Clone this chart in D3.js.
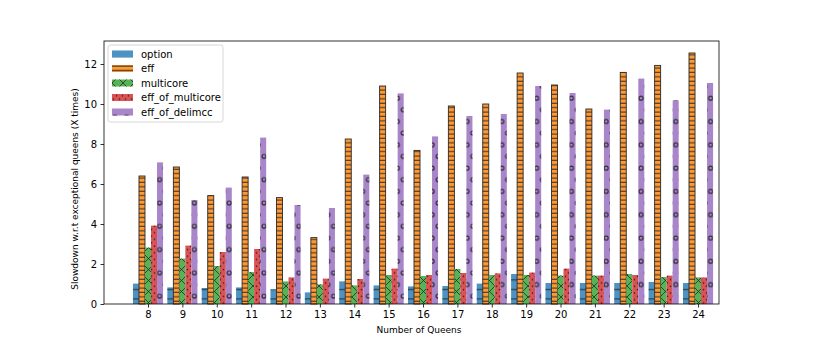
<!DOCTYPE html>
<html>
<head>
<meta charset="utf-8">
<script src="https://cdn.jsdelivr.net/npm/d3@7"></script>
<style>
  body { margin: 0; background: #fff; }
  svg { font-family: 'DejaVu Sans', sans-serif; }
</style>
</head>
<body>
<div id="chart"></div>
<script>
const queens = [8, 9, 10, 11, 12, 13, 14, 15, 16, 17, 18, 19, 20, 21, 22, 23, 24]
const option = [1.02, 0.83, 0.8, 0.83, 0.73, 0.58, 1.13, 0.93, 0.88, 0.9, 1.02, 1.5, 1.05, 1.05, 1.05, 1.1, 1.05]
const eff = [6.4, 6.85, 5.42, 6.35, 5.32, 3.32, 8.25, 10.9, 7.68, 9.9, 10.0, 11.55, 10.95, 9.75, 11.58, 11.93, 12.55]
const multicore = [2.82, 2.27, 1.9, 1.6, 1.13, 0.98, 0.93, 1.45, 1.4, 1.75, 1.45, 1.45, 1.42, 1.42, 1.5, 1.35, 1.33]
const effOfMulticore = [3.92, 2.92, 2.6, 2.75, 1.33, 1.27, 1.25, 1.77, 1.45, 1.55, 1.53, 1.57, 1.77, 1.42, 1.45, 1.42, 1.33]
const effOfDelimcc = [7.08, 5.2, 5.82, 8.32, 4.95, 4.8, 6.47, 10.53, 8.38, 9.4, 9.5, 10.9, 10.55, 9.72, 11.27, 10.18, 11.05]
const yTicks = [0, 2, 4, 6, 8, 10, 12]

const series = [
  { name: 'option', values: option, color: '#4c92c3', hatch: 'h-dash' },
  { name: 'eff', values: eff, color: '#ff9933', hatch: 'h-plus' },
  { name: 'multicore', values: multicore, color: '#56b356', hatch: 'h-x' },
  { name: 'eff_of_multicore', values: effOfMulticore, color: '#de5253', hatch: 'h-dot' },
  { name: 'eff_of_delimcc', values: effOfDelimcc, color: '#a985ca', hatch: 'h-o' }
]

const width = 831
const height = 342
const margin = { top: 41, right: 112, bottom: 38, left: 104 }
const hatchColor = '#2a2a2a'

const svg = d3.select('#chart').append('svg').attr('width', width).attr('height', height)

const xScale = d3.scaleLinear().domain([6.72, 24.61]).range([margin.left, width - margin.right])
const yScale = d3.scaleLinear().domain([0, 13.15]).range([height - margin.bottom, margin.top])
const barW = 0.175

// hatch patterns (user space so they line up like matplotlib)
const defs = svg.append('defs')
const pat = (id, w, h) =>
  defs.append('pattern').attr('id', id).attr('patternUnits', 'userSpaceOnUse').attr('width', w).attr('height', h)

pat('h-dash', 10, 9.5).append('line')
  .attr('x1', 0).attr('x2', 10).attr('y1', 4.5).attr('y2', 4.5)
  .attr('stroke', hatchColor).attr('stroke-width', 1)

const plus = pat('h-plus', 4.4, 4.4)
plus.append('line').attr('x1', 0).attr('x2', 4.4).attr('y1', 2).attr('y2', 2)
  .attr('stroke', hatchColor).attr('stroke-width', 1)

const xp = pat('h-x', 11, 11)
xp.append('path').attr('d', 'M0,0L11,11M11,0L0,11')
  .attr('stroke', hatchColor).attr('stroke-width', 0.8).attr('fill', 'none')

const dp = pat('h-dot', 6, 6.7)
dp.append('circle').attr('cx', 1.5).attr('cy', 1.5).attr('r', 0.85).attr('fill', hatchColor)
dp.append('circle').attr('cx', 4.5).attr('cy', 4.85).attr('r', 0.85).attr('fill', hatchColor)

const op = pat('h-o', 11.6, 23.3)
op.append('circle').attr('cx', 3).attr('cy', 5).attr('r', 2).attr('fill', 'none')
  .attr('stroke', hatchColor).attr('stroke-width', 1.1)
op.append('circle').attr('cx', 8.8).attr('cy', 16.6).attr('r', 2).attr('fill', 'none')
  .attr('stroke', hatchColor).attr('stroke-width', 1.1)

// bars
series.forEach((s, si) => {
  const off = (si - 2) * barW
  const g = svg.append('g').attr('class', 'series-' + si)
  const bx = (d, i) => xScale(queens[i] + off - barW / 2)
  const bw = xScale(barW) - xScale(0)
  g.selectAll('rect.fill')
    .data(s.values)
    .join('rect')
    .attr('class', 'fill')
    .attr('x', bx)
    .attr('width', bw)
    .attr('y', (d) => yScale(d))
    .attr('height', (d) => yScale(0) - yScale(d))
    .attr('fill', s.color)
  g.selectAll('rect.hatch')
    .data(s.values)
    .join('rect')
    .attr('class', 'hatch')
    .attr('x', bx)
    .attr('width', bw)
    .attr('y', (d) => yScale(d))
    .attr('height', (d) => yScale(0) - yScale(d))
    .attr('fill', `url(#${s.hatch})`)
    .attr('stroke', s.name === 'eff' ? hatchColor : 'none')
    .attr('stroke-width', 0.9)
})

// axes
const xAxis = d3.axisBottom(xScale).tickValues(queens).tickFormat(d3.format('d')).tickSizeInner(3.5).tickSizeOuter(0).tickPadding(3.5)
const yAxis = d3.axisLeft(yScale).tickValues(yTicks).tickSizeInner(3.5).tickSizeOuter(0).tickPadding(3.5)

svg.append('g')
  .attr('transform', `translate(0,${height - margin.bottom})`)
  .call(xAxis)
  .call((g) => {
    g.select('.domain').remove()
    g.selectAll('.tick line').attr('stroke', '#000').attr('stroke-width', 0.8)
    g.selectAll('.tick text').attr('fill', '#000').attr('font-size', '10px').attr('font-family', 'DejaVu Sans')
  })

svg.append('g')
  .attr('transform', `translate(${margin.left},0)`)
  .call(yAxis)
  .call((g) => {
    g.select('.domain').remove()
    g.selectAll('.tick line').attr('stroke', '#000').attr('stroke-width', 0.8)
    g.selectAll('.tick text').attr('fill', '#000').attr('font-size', '10px').attr('font-family', 'DejaVu Sans')
  })

// frame
svg.append('rect')
  .attr('x', margin.left).attr('y', margin.top)
  .attr('width', width - margin.left - margin.right)
  .attr('height', height - margin.top - margin.bottom)
  .attr('fill', 'none').attr('stroke', '#000').attr('stroke-width', 0.8)

// axis labels
svg.append('text')
  .attr('x', 419).attr('y', 333)
  .attr('text-anchor', 'middle').attr('font-size', '9px').attr('fill', '#000')
  .text('Number of Queens')

svg.append('text')
  .attr('transform', 'translate(78,189) rotate(-90)')
  .attr('text-anchor', 'middle').attr('font-size', '9px').attr('fill', '#000')
  .text('Slowdown w.r.t exceptional queens (X times)')

// legend
const legend = svg.append('g').attr('transform', 'translate(108,45)')
legend.append('rect')
  .attr('width', 115).attr('height', 77).attr('rx', 2.5)
  .attr('fill', '#fff').attr('fill-opacity', 0.8).attr('stroke', '#cccccc').attr('stroke-width', 0.8)
series.forEach((s, i) => {
  const row = legend.append('g').attr('transform', `translate(4,${9 + i * 14.5})`)
  row.append('rect').attr('x', 0).attr('y', -3.5).attr('width', 21).attr('height', 7).attr('fill', s.color)
  row.append('rect').attr('x', 0).attr('y', -3.5).attr('width', 21).attr('height', 7).attr('fill', `url(#${s.hatch})`)
  row.append('text').attr('x', 29).attr('y', 3.5).attr('font-size', '10px').attr('fill', '#000').text(s.name)
})
</script>
</body>
</html>
